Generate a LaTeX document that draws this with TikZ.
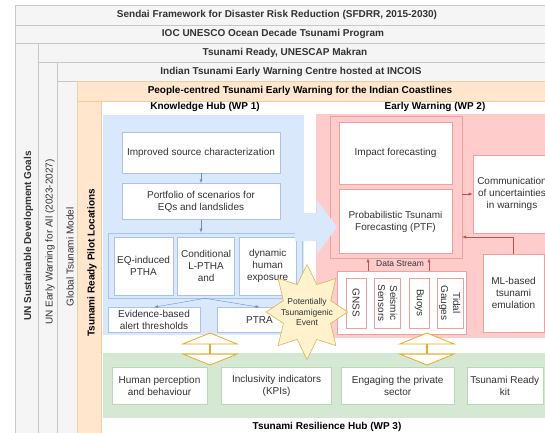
\documentclass[tikz,border=0pt]{standalone}
\usepackage{fontspec}
\setmainfont{Liberation Sans}
\usepackage{tikz}
\usetikzlibrary{positioning}
\usetikzlibrary{shapes.geometric}
\usetikzlibrary{shapes.arrows}
\definecolor{txt-gray}{RGB}{51,51,51}
\definecolor{frame-gray}{RGB}{200,200,200}
\definecolor{fill-gray}{RGB}{245,245,245}
\definecolor{fill-orange}{RGB}{255,230,204}
\definecolor{line-orange}{RGB}{242,205,160}
\definecolor{fill-blue}{RGB}{218,232,252}
\definecolor{line-blue}{RGB}{169,196,235}
\definecolor{arrow-blue}{RGB}{108,142,191}
\definecolor{fill-red}{RGB}{255,204,204}
\definecolor{line-red}{RGB}{238,160,160}
\definecolor{arrow-red}{RGB}{184,84,80}
\definecolor{fill-green}{RGB}{213,232,212}
\definecolor{line-green}{RGB}{185,215,180}
\definecolor{fill-yellow}{RGB}{255,242,204}
\definecolor{line-yellow}{RGB}{214,182,86}
\definecolor{line-gold}{RGB}{232,170,40}

\begin{document}
\begin{tikzpicture}[x=1pt, y=-1pt]
    \tikzset{ lyr/.style={draw=frame-gray, fill=fill-gray, line width=0.6pt} }
    \tikzset{ orng/.style={draw=line-orange, fill=fill-orange, line width=0.6pt} }
    \tikzset{ lyrtxt/.style={text=txt-gray, font=\fontsize{10}{12}\selectfont\bfseries, inner sep=0pt} }
    \tikzset{ coltxt/.style={text=txt-gray, font=\fontsize{10}{12}\selectfont, rotate=90, inner sep=0pt} }
    \tikzset{ hubtxt/.style={text=black, font=\fontsize{10}{12}\selectfont\bfseries, inner sep=0pt} }
    \tikzset{ wbox/.style={draw=#1, fill=white, line width=0.6pt, text=txt-gray, font=\fontsize{10}{12}\selectfont, align=center, inner sep=1pt} }
    \tikzset{ grp/.style={draw=#1, line width=0.6pt, inner sep=0pt} }
    \tikzset{ blkarrow/.style={double arrow, double arrow head extend=19pt, double arrow tip angle=136, rotate=90, minimum height=32pt, minimum width=54pt, inner sep=0pt, draw=line-gold, fill=white, line width=0.8pt} }
    \tikzset{ evstar/.style={star, star points=8, star point ratio=1.6, minimum size=95pt, xscale=0.86, inner sep=0pt, draw=line-yellow, fill=fill-yellow, line width=0.6pt} }

    \useasboundingbox (0,0) rectangle (545,432);
    \clip (0,0) rectangle (545,432);
    \fill[white] (0,0) rectangle (545,432);

    % framework layers
    \foreach \l/\t/\b in {15/5/25, 15/25/43, 38/43/62, 57/62/81}
        \draw[lyr] (\l,\t) rectangle (560,\b);
    \foreach \l/\r/\t in {15/38/43, 38/57/62, 57/77/81}
        \draw[lyr] (\l,\t) rectangle (\r,440);
    \draw[orng] (77,81) rectangle (560,101);
    \draw[orng] (77,101) rectangle (101,440);

    \node[lyrtxt] (sendai) at (277,15)   {Sendai Framework for Disaster Risk Reduction (SFDRR, 2015-2030)};
    \node[lyrtxt] (ioc)    at (273,34)   {IOC UNESCO Ocean Decade Tsunami Program};
    \node[lyrtxt] (tready) at (285,52.5) {Tsunami Ready, UNESCAP Makran};
    \node[lyrtxt] (itews)  at (291,71.5) {Indian Tsunami Early Warning Centre hosted at INCOIS};
    \node[hubtxt] (pcew)   at (300,91)   {People-centred Tsunami Early Warning for the Indian Coastlines};

    \node[coltxt, font=\fontsize{10}{12}\selectfont\bfseries] (sdg) at (28.5,236) {UN Sustainable Development Goals};
    \node[coltxt] (ew4all) at (50,242)  {UN Early Warning for All (2023-2027)};
    \node[coltxt] (gtm)    at (70,257)  {Global Tsunami Model};
    \node[coltxt, text=black, font=\fontsize{10}{12}\selectfont\bfseries] (trpl) at (92,263) {Tsunami Ready Pilot Locations};

    % knowledge hub (WP 1)
    \fill[fill-blue] (103,115) rectangle (304,335);
    \node[hubtxt] (kh) at (205,107) {Knowledge Hub (WP 1)};
    \node[wbox=line-blue, minimum width=158pt, minimum height=41pt] (isc) at (201,152.5) {Improved source characterization};
    \node[wbox=line-blue, minimum width=158pt, minimum height=36pt, below=10pt of isc] (por) {Portfolio of scenarios for\\EQs and landslides};
    \node[grp=line-blue, fill=fill-blue, minimum width=194pt, minimum height=65pt] (ptha) at (205,265.5) {};
    \node[wbox=line-blue, minimum width=59pt, minimum height=58pt] (eq) at (143.5,266) {EQ-induced\\PTHA};
    \node[wbox=line-blue, minimum width=57pt, minimum height=58pt, right=4pt of eq] (cond) {Conditional\\L-PTHA\\and};
    \node[wbox=line-blue, minimum width=57pt, minimum height=58pt, right=4pt of cond] (dyn) {dynamic\\human\\exposure};
    \node[wbox=line-blue, minimum width=92pt, minimum height=25pt] (evi) at (154,320) {Evidence-based\\alert thresholds};
    \node[wbox=line-blue, minimum width=85pt, minimum height=25pt] (ptra) at (259.5,320) {PTRA};

    \draw[->,>=latex, arrow-blue] (isc.south)  -- (por.north);
    \draw[->,>=latex, arrow-blue] (por.south)  -- (por.south |- ptha.north);
    \draw[->,>=latex, arrow-blue] (ptha.south) -- (evi.north);
    \draw[->,>=latex, arrow-blue] (ptha.south) -- (ptra.north);

    % early warning (WP 2)
    \fill[fill-red] (316,114) rectangle (560,338);
    \node[hubtxt] (ew) at (435,107) {Early Warning (WP 2)};
    \node[grp=line-red, fill=fill-red, minimum width=132pt, minimum height=142pt] (ewgrp) at (396,187) {};
    \fill[fill-blue] (295,213) -- (317,213) -- (317,200) -- (337,227) -- (317,254) -- (317,241) -- (295,241) -- cycle;
    \node[wbox=line-red, minimum width=113pt, minimum height=62pt] (impact) at (395.5,153) {Impact forecasting};
    \node[wbox=line-red, minimum width=113pt, minimum height=64pt, below=5pt of impact] (ptf) {Probabilistic Tsunami\\Forecasting (PTF)};
    \node[wbox=line-red, minimum width=78pt, minimum height=78pt] (comm) at (512,194) {Communication\\of uncertainties\\in warnings};
    \node[wbox=line-red, minimum width=61pt, minimum height=78pt] (ml) at (513.5,293) {ML-based\\tsunami\\emulation};
    \node[wbox=line-red, minimum width=129pt, minimum height=63pt] (dsgrp) at (401.5,302.5) {};
    \node[wbox=line-red, minimum width=20pt, minimum height=50pt] (gnss) at (356,303) {};
    \node[wbox=line-red, minimum width=26pt, minimum height=50pt, right=8pt of gnss] (seis) {};
    \node[wbox=line-red, minimum width=20pt, minimum height=50pt, right=8pt of seis] (buoy) {};
    \node[wbox=line-red, minimum width=26pt, minimum height=50pt, right=7pt of buoy] (tide) {};
    \node[coltxt, rotate=180] (gnsst) at (gnss) {GNSS};
    \node[coltxt, rotate=180, align=center] (seist) at (seis) {Seismic\\Sensors};
    \node[coltxt, rotate=180] (buoyt) at (buoy) {Buoys};
    \node[coltxt, rotate=180, align=center] (tidet) at (tide) {Tidal\\Gauges};
    \node[text=txt-gray, font=\fontsize{8.5}{10}\selectfont, inner sep=0pt] (ds) at (400,264) {Data Stream};
    \coordinate (mlin) at (462,237);

    \draw[->,>=latex, arrow-red] ([xshift=-33.5pt]dsgrp.north) -- ([xshift=-33.5pt]dsgrp.north |- ewgrp.south);
    \draw[->,>=latex, arrow-red] ([xshift=27.5pt]dsgrp.north)  -- ([xshift=27.5pt]dsgrp.north |- ewgrp.south);
    \draw[->,>=latex, arrow-red] (ewgrp.east |- comm.west) -- (comm.west);
    \draw[->,>=latex, arrow-red] (ml.north) |- (mlin);

    % resilience hub (WP 3)
    \fill[fill-green] (103,353) rectangle (560,418);
    \node[hubtxt] (rh) at (327,427) {Tsunami Resilience Hub (WP 3)};
    \node[wbox=line-green, minimum width=95pt, minimum height=37pt] (hum) at (159.5,385.5) {Human perception\\and behaviour};
    \node[wbox=line-green, minimum width=110pt, minimum height=37pt, right=14pt of hum] (inc) {Inclusivity indicators\\(KPIs)};
    \node[wbox=line-green, minimum width=113pt, minimum height=37pt, right=9pt of inc] (eng) {Engaging the private\\sector};
    \node[wbox=line-green, minimum width=76pt, minimum height=37pt, right=12pt of eng] (kit) {Tsunami Ready\\kit};

    % links between hubs
    \node[blkarrow] (kh2rh) at (210,349) {};
    \node[blkarrow] (ew2rh) at (427,349) {};

    % triggering event
    \node[evstar] (ev) at (307,312) {};
    \node[text=txt-gray, font=\fontsize{8.5}{10.5}\selectfont, align=center, inner sep=0pt] (evt) at (ev.center) {Potentially\\Tsunamigenic\\Event};
\end{tikzpicture}
\end{document}
